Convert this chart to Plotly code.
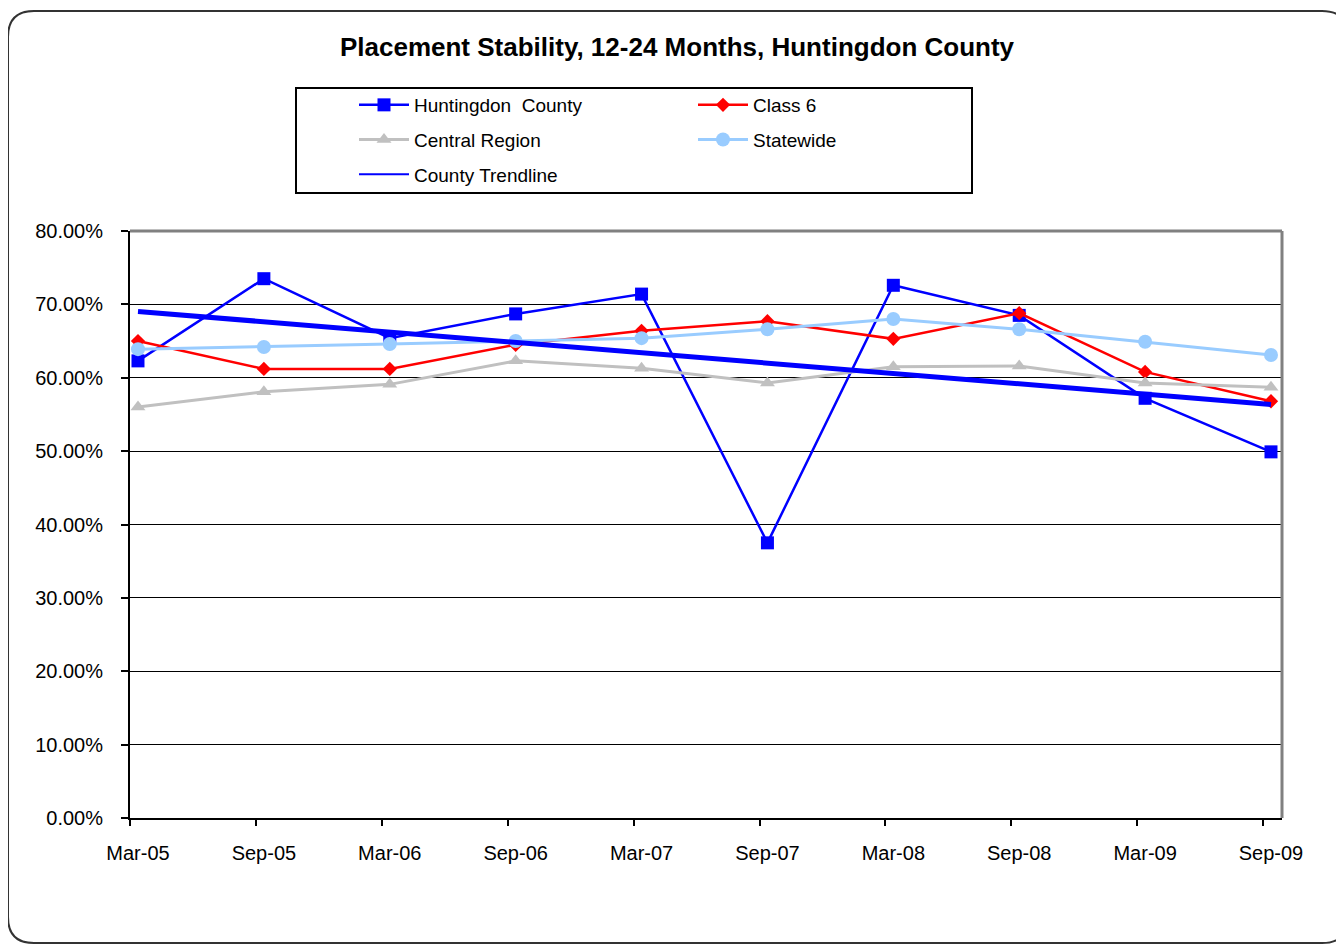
import numpy as np
import plotly.graph_objects as go

categories = ["Mar-05", "Sep-05", "Mar-06", "Sep-06", "Mar-07",
              "Sep-07", "Mar-08", "Sep-08", "Mar-09", "Sep-09"]
huntingdon = [0.623, 0.735, 0.654, 0.687, 0.714, 0.375, 0.726, 0.685, 0.572, 0.499]
class6 = [0.650, 0.612, 0.612, 0.645, 0.664, 0.677, 0.653, 0.688, 0.608, 0.568]
central = [0.560, 0.581, 0.591, 0.623, 0.613, 0.593, 0.615, 0.616, 0.593, 0.587]
statewide = [0.639, 0.642, 0.646, 0.650, 0.654, 0.666, 0.680, 0.666, 0.649, 0.631]
y_ticks = [0.0, 0.1, 0.2, 0.3, 0.4, 0.5, 0.6, 0.7, 0.8]

idx = np.arange(len(categories))
slope, intercept = np.polyfit(idx, np.array(huntingdon), 1)
trend = list(slope * idx + intercept)

FONT = "Liberation Sans, Arial, sans-serif"
OFF = 8  # page body margin
W, H = 1344 - OFF, 946 - OFF
L = 130 - OFF
T = 231 - OFF
R = W - (1282 - OFF)
B = H - (818 - OFF)
PW, PH = W - L - R, H - T - B


def px(x):
    return (x - OFF - L) / PW


def py(y):
    return (H - B - (y - OFF)) / PH


fig = go.Figure()
fig.add_trace(go.Scatter(x=idx, y=huntingdon, name="Huntingdon  County", mode="lines+markers",
                         line=dict(color="#0000FF", width=2.5),
                         marker=dict(symbol="square", size=13, color="#0000FF"),
                         legend="legend", legendgroup="a"))
fig.add_trace(go.Scatter(x=idx, y=class6, name="Class 6", mode="lines+markers",
                         line=dict(color="#FF0000", width=2.5),
                         marker=dict(symbol="diamond", size=11, color="#FF0000"),
                         legend="legend2", legendgroup="b"))
fig.add_trace(go.Scatter(x=idx, y=central, name="Central Region", mode="lines+markers",
                         line=dict(color="#C0C0C0", width=3),
                         marker=dict(symbol="triangle-up", size=13, color="#C0C0C0"),
                         legend="legend", legendgroup="c"))
fig.add_trace(go.Scatter(x=idx, y=statewide, name="Statewide", mode="lines+markers",
                         line=dict(color="#99CCFF", width=3),
                         marker=dict(symbol="circle", size=14, color="#99CCFF"),
                         legend="legend2", legendgroup="d"))
# legend entry for the trendline (thin sample, as in the original legend)
fig.add_trace(go.Scatter(x=[None], y=[None], name="County Trendline", mode="lines",
                         line=dict(color="#0000FF", width=2),
                         legend="legend", legendgroup="e", hoverinfo="skip"))
fig.add_trace(go.Scatter(x=idx, y=trend, name="County Trendline", mode="lines",
                         line=dict(color="#0000FF", width=5),
                         showlegend=False, legendgroup="e"))
fig.add_trace(go.Scatter(x=[None], y=[None], xaxis="x2", showlegend=False, hoverinfo="skip"))

r0 = -0.0635
r1 = r0 + PW / (1133 / 9)
tick_off = -0.063

legend_common = dict(
    orientation="v", xanchor="left", yanchor="top",
    bgcolor="rgba(0,0,0,0)", borderwidth=0,
    font=dict(family=FONT, size=19, color="#000000"),
    itemwidth=50, tracegroupgap=7, traceorder="grouped",
)

fig.update_layout(
    width=W, height=H,
    margin=dict(l=L, r=R, t=T, b=B, autoexpand=False),
    paper_bgcolor="#FFFFFF", plot_bgcolor="#FFFFFF",
    font=dict(family=FONT, color="#000000"),
    title=dict(text="<b>Placement Stability, 12-24 Months, Huntingdon County</b>",
               x=(677 - OFF) / W, xref="container", xanchor="center",
               y=1 - (47 - OFF) / H, yref="container", yanchor="middle",
               font=dict(family=FONT, size=26, color="#000000")),
    legend=dict(x=px(354), y=py(86), **legend_common),
    legend2=dict(x=px(693), y=py(86), **legend_common),
    xaxis=dict(range=[r0, r1], tickmode="array", tickvals=list(idx), ticktext=categories,
               ticks="", showgrid=False, zeroline=False,
               showline=True, linecolor="#000000", linewidth=2,
               tickfont=dict(family=FONT, size=20, color="#000000"),
               ticklabelstandoff=16, automargin=False, fixedrange=True),
    xaxis2=dict(range=[r0, r1], overlaying="x", anchor="y", side="bottom",
                tickmode="array", tickvals=[i + tick_off for i in idx], showticklabels=False,
                ticks="outside", ticklen=7, tickwidth=2, tickcolor="#000000",
                showgrid=False, zeroline=False, showline=False, automargin=False),
    yaxis=dict(range=[0, 0.8], tickmode="array", tickvals=y_ticks, tickformat=".2%",
               ticks="outside", ticklen=7, tickwidth=2, tickcolor="#000000",
               showgrid=True, gridcolor="#000000", gridwidth=1,
               zeroline=False, showline=True, linecolor="#000000", linewidth=2,
               tickfont=dict(family=FONT, size=20, color="#000000"),
               ticklabelstandoff=14, automargin=False, fixedrange=True),
    showlegend=True,
)

# plot frame top/right (gray)
fig.add_shape(type="line", xref="paper", yref="paper", x0=0, x1=1, y0=1, y1=1,
              line=dict(color="#808080", width=3), layer="above")
fig.add_shape(type="line", xref="paper", yref="paper", x0=1, x1=1, y0=0, y1=1,
              line=dict(color="#808080", width=3), layer="above")

# legend box
fig.add_shape(type="rect", xref="paper", yref="paper",
              x0=px(296), x1=px(972), y0=py(193), y1=py(88),
              line=dict(color="#000000", width=2), fillcolor="rgba(0,0,0,0)", layer="below")

# outer rounded chart border (right edge runs off the page, as in the original)
xl, xr, yt, yb, rad = 8, 1348, 11, 943, 26
path = (f"M {px(xl)},{py(yt + rad)} "
        f"Q {px(xl)},{py(yt)} {px(xl + rad)},{py(yt)} "
        f"L {px(xr - rad)},{py(yt)} "
        f"Q {px(xr)},{py(yt)} {px(xr)},{py(yt + rad)} "
        f"L {px(xr)},{py(yb - rad)} "
        f"Q {px(xr)},{py(yb)} {px(xr - rad)},{py(yb)} "
        f"L {px(xl + rad)},{py(yb)} "
        f"Q {px(xl)},{py(yb)} {px(xl)},{py(yb - rad)} Z")
fig.add_shape(type="path", xref="paper", yref="paper", path=path,
              line=dict(color="#333333", width=2), fillcolor="rgba(0,0,0,0)", layer="below")

fig.write_html("out.html")
